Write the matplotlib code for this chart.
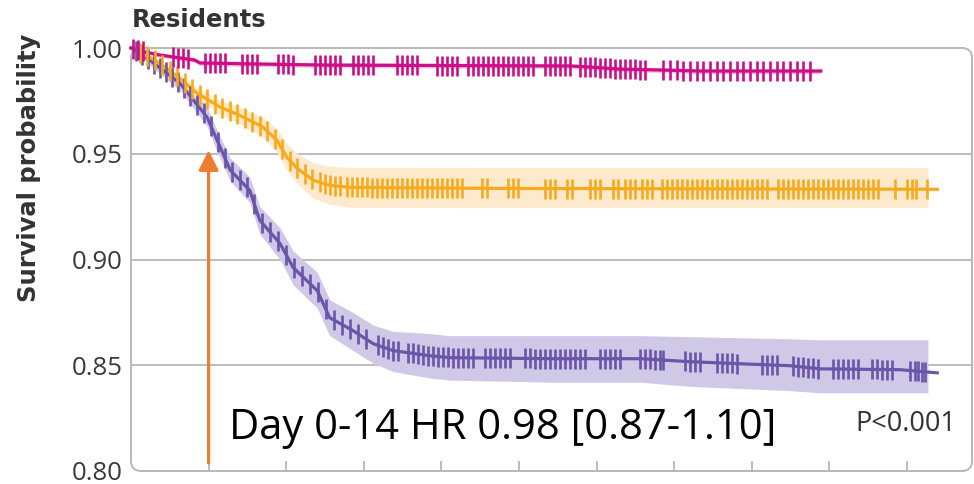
import numpy as np
import matplotlib
matplotlib.use("Agg")
import matplotlib.pyplot as plt
from matplotlib.patches import FancyBboxPatch

# survival curves (days, probability)
purple_t = [0, 2.4, 6.3, 9.8, 11.1, 12.8, 15.3, 16.6, 19.2, 20.9, 24.0, 25.6, 28.6,
            31.2, 33.8, 38.5, 41.1, 54.0, 65.6, 72.0, 78.5, 84.9, 88.8, 99.1, 103.9]
purple_s = [1.000, 0.9943, 0.9834, 0.9673, 0.9564, 0.9422, 0.9327, 0.9185, 0.9076,
            0.8962, 0.8853, 0.8725, 0.8664, 0.8602, 0.8569, 0.8545, 0.8536, 0.8531,
            0.8531, 0.8517, 0.8507, 0.8498, 0.8483, 0.8479, 0.8464]
purple_lo = [1.000, 0.992, 0.980, 0.963, 0.951, 0.937, 0.927, 0.912, 0.900, 0.888,
             0.877, 0.864, 0.857, 0.851, 0.847, 0.844, 0.843, 0.842, 0.842, 0.840,
             0.839, 0.838, 0.837, 0.837, 0.837]
purple_hi = [1.000, 0.9965, 0.987, 0.972, 0.961, 0.948, 0.939, 0.925, 0.915, 0.904,
             0.894, 0.881, 0.875, 0.869, 0.866, 0.865, 0.864, 0.864, 0.864, 0.8635,
             0.863, 0.8625, 0.862, 0.862, 0.862]

orange_t = [0, 3.1, 5.4, 8.5, 11.5, 14.0, 17.0, 18.8, 20.1, 21.4, 23.5, 25.6, 28.2, 47.6, 103.9]
orange_s = [1.000, 0.9943, 0.9882, 0.9787, 0.9720, 0.9682, 0.9626, 0.9564, 0.9483,
            0.9431, 0.9374, 0.9351, 0.9341, 0.9336, 0.9332]
orange_lo = [1.000, 0.9935, 0.9865, 0.9762, 0.9688, 0.9642, 0.9580, 0.9510, 0.9420,
             0.9360, 0.9290, 0.9262, 0.9247, 0.9245, 0.9245]
orange_hi = [1.000, 0.9951, 0.9899, 0.9812, 0.9752, 0.9722, 0.9672, 0.9618, 0.9546,
             0.9502, 0.9458, 0.9440, 0.9436, 0.9435, 0.9435]

magenta_t = [0, 1.8, 3.7, 8.2, 8.9, 16.6, 25.6, 56.6, 59.1, 63.0, 68.2, 73.3, 88.9]
magenta_s = [1.000, 0.9981, 0.9967, 0.9943, 0.9929, 0.9924, 0.9919, 0.9915, 0.9910,
             0.9900, 0.9896, 0.9891, 0.9891]
magenta_lo = [1.000, 0.9973, 0.9957, 0.9932, 0.9917, 0.9912, 0.9907, 0.9903, 0.9898,
              0.9888, 0.9884, 0.9879, 0.9879]
magenta_hi = [1.000, 0.9989, 0.9977, 0.9954, 0.9941, 0.9936, 0.9931, 0.9927, 0.9922,
              0.9912, 0.9908, 0.9903, 0.9903]

# censoring times (days)
purple_cens = [0.6, 1.4, 2.2, 3.0, 3.7, 4.5, 5.3, 6.1, 6.8, 7.6, 8.5, 9.4, 10.3, 11.2,
               12.1, 13.0, 14.0, 14.9, 15.9, 16.9, 17.9, 18.9, 20.0, 21.0, 22.0, 23.1,
               24.1, 25.1, 26.2, 27.2, 28.2, 29.3, 30.3, 31.8, 32.5, 33.1, 33.8, 34.4,
               35.7, 36.3, 37.0, 37.6, 38.3, 38.9, 39.6, 40.2, 40.9, 41.5, 42.1, 42.8,
               43.4, 44.1, 45.6, 46.3, 46.9, 47.6, 48.2, 48.8, 50.8, 51.4, 52.1, 52.7,
               53.4, 54.0, 54.6, 55.3, 55.9, 56.6, 57.2, 57.9, 58.5, 60.4, 61.1, 61.7,
               62.4, 63.0, 65.6, 66.2, 66.9, 67.5, 68.2, 68.6, 71.4, 72.0, 72.7, 73.3,
               75.5, 76.2, 76.8, 77.4, 78.1, 81.3, 82.0, 82.6, 83.2, 85.3, 86.0, 86.6,
               87.2, 87.9, 88.5, 90.5, 91.1, 91.8, 92.4, 93.0, 93.7, 95.5, 96.1, 96.8,
               97.4, 98.1, 100.4, 101.0, 101.4, 101.9, 102.3]
orange_cens = [1.2, 2.1, 3.1, 4.0, 5.0, 5.9, 7.0, 7.9, 8.9, 9.8, 10.8, 11.7, 12.8, 13.7,
               14.7, 15.6, 16.6, 17.5, 18.6, 19.5, 20.5, 21.4, 22.4, 23.3, 24.4, 25.0,
               25.6, 26.3, 26.9, 27.8, 28.5, 29.1, 29.8, 30.4, 31.1, 31.7, 32.3, 33.0,
               33.6, 34.3, 34.9, 35.6, 36.2, 36.9, 37.5, 38.1, 38.8, 39.4, 40.1, 40.7,
               41.4, 42.0, 42.7, 45.2, 45.9, 48.6, 49.2, 49.9, 53.4, 54.0, 54.6, 56.2,
               56.8, 59.1, 59.8, 60.4, 62.1, 62.8, 63.7, 64.3, 64.9, 65.9, 66.5, 67.1,
               68.4, 69.1, 69.7, 70.4, 71.0, 71.6, 72.3, 72.9, 73.6, 74.2, 74.9, 75.5,
               76.2, 76.8, 77.4, 78.1, 78.7, 79.4, 80.0, 80.7, 81.3, 82.0, 83.4, 84.0,
               84.7, 85.3, 86.0, 86.6, 87.2, 87.9, 88.5, 89.2, 89.8, 90.5, 91.1, 91.8,
               92.4, 93.0, 93.7, 94.3, 95.0, 95.6, 96.3, 98.5, 100.0, 100.6, 101.2, 102.6]
magenta_cens = [0.3, 0.9, 1.5, 5.4, 6.1, 6.7, 7.3, 9.5, 10.2, 10.8, 11.5, 12.1, 14.3,
                14.9, 15.6, 16.2, 18.9, 19.6, 20.2, 20.9, 23.7, 24.4, 25.0, 25.6, 26.3,
                26.9, 28.6, 29.3, 29.9, 30.5, 31.2, 34.3, 34.9, 35.6, 36.2, 36.9, 39.4,
                40.1, 40.7, 41.4, 42.0, 43.4, 44.1, 44.7, 45.4, 46.0, 46.6, 47.3, 47.9,
                48.6, 49.2, 49.9, 50.5, 51.2, 51.8, 53.4, 54.0, 54.6, 55.3, 55.9, 56.6,
                57.9, 58.5, 59.1, 59.8, 60.4, 61.1, 61.7, 62.4, 63.0, 63.7, 64.3, 64.9,
                65.6, 66.2, 68.6, 69.4, 70.3, 71.1, 72.0, 72.9, 73.7, 74.6, 75.5, 76.3,
                77.2, 78.1, 78.9, 79.8, 80.7, 81.4, 82.3, 83.2, 84.0, 84.9, 85.8, 86.6,
                87.5]

band_end = 102.7
x_ticks = [10, 20, 30, 40, 50, 60, 70, 80, 90, 100]
y_ticks = [0.80, 0.85, 0.90, 0.95, 1.00]
grid_levels = [0.85, 0.90, 0.95]

series = [
    (purple_t, purple_s, purple_lo, purple_hi, purple_cens, "#6a55a8", "#cfc9e7"),
    (orange_t, orange_s, orange_lo, orange_hi, orange_cens, "#f9aa1c", "#fde9cc"),
    (magenta_t, magenta_s, magenta_lo, magenta_hi, magenta_cens, "#cc0f86", "#f2c6df"),
]

fig = plt.figure(figsize=(9.74, 4.84), dpi=100)
ax = fig.add_axes([131 / 974, 1 - 471 / 484, (972 - 131) / 974, (471 - 48) / 484])
ax.set_xlim(0, (972 - 131) / 7.76)
ax.set_ylim(0.80, 1.00)

for lvl in grid_levels:
    ax.axhline(lvl, color="#bdbdbd", lw=1.4, zorder=1)

for t, s, lo, hi, cens, col, band in series:
    bt = np.minimum(t, band_end)
    ax.fill_between(bt, lo, hi, color=band, lw=0, zorder=2)
for t, s, lo, hi, cens, col, band in series:
    ax.plot(t, s, color=col, lw=2.3, zorder=3, clip_on=False)
    ax.plot(cens, np.interp(cens, t, s), ls="none", marker="|", ms=14, mew=1.9,
            color=col, zorder=4, clip_on=False)

# rounded frame
frame = FancyBboxPatch((0, 0), 1, 1, boxstyle="round,pad=0,rounding_size=0.012",
                       transform=ax.transAxes, mutation_aspect=841 / 423,
                       fill=False, ec="#b8b8b8", lw=1.4, clip_on=False, zorder=1.5)
ax.add_patch(frame)
for sp in ax.spines.values():
    sp.set_visible(False)

ax.set_xticks(x_ticks)
ax.set_xticklabels([])
ax.tick_params(axis="x", direction="in", length=7, width=1.3, color="#b8b8b8")
ax.set_yticks(y_ticks)
ax.set_yticklabels([f"{v:.2f}" for v in y_ticks], family="Open Sans", fontsize=18.5,
                   color="#3a3a3a")
ax.tick_params(axis="y", length=0, pad=6)

fig.text(132 / 974, 1 - 20 / 484, "Residents", fontsize=17.5, fontweight="bold",
         color="#333333", va="center", ha="left")
fig.text(29 / 974, 1 - 168 / 484, "Survival probability", fontsize=17.5,
         fontweight="bold", color="#333333", rotation=90, va="center", ha="center")

ax.annotate("", xy=(10, 0.9517), xytext=(10, 0.8038),
            arrowprops=dict(arrowstyle="-|>,head_length=0.6,head_width=0.3",
                            color="#ed7d31", lw=2.3, mutation_scale=20,
                            shrinkA=0, shrinkB=0), zorder=5)
ax.text(12.6, 0.8152, "Day 0-14 HR 0.98 [0.87-1.10]", family="Open Sans",
        fontsize=30, color="black", va="baseline", ha="left", zorder=6)
ax.text(93.3, 0.8190, "P<0.001", family="Open Sans", fontsize=19.5,
        color="#333333", va="baseline", ha="left", zorder=6)

fig.savefig("out.png", dpi=100)
